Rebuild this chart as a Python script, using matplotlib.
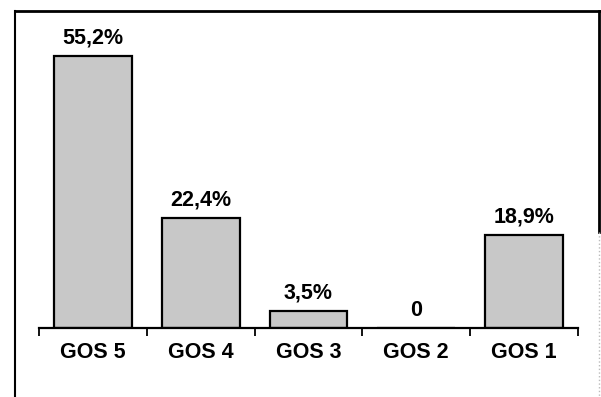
import numpy as np
import matplotlib.pyplot as plt
from matplotlib.lines import Line2D

plt.rcParams['font.family'] = ['Liberation Sans', 'DejaVu Sans']

categories = ["GOS 5", "GOS 4", "GOS 3", "GOS 2", "GOS 1"]
values = [55.2, 22.4, 3.5, 0.0, 18.9]
labels = ["55,2%", "22,4%", "3,5%", "0", "18,9%"]

W, H = 601, 397
fig = plt.figure(figsize=(W / 100, H / 100), dpi=100)
# axes in pixel terms: x 39..578, baseline at y=328, top at y=11
ax = fig.add_axes([39 / W, (H - 328) / H, (578 - 39) / W, (328 - 11) / H])

x = np.arange(len(categories))
ax.bar(x, values, width=0.72, color='#c8c8c8', edgecolor='black', linewidth=1.6)

for xi, v, lab in zip(x, values, labels):
    ax.annotate(lab, (xi, v), xytext=(0, 9), textcoords='offset points',
                ha='center', va='baseline', fontsize=15.5, fontweight='bold')

ax.set_xlim(-0.5, len(categories) - 0.5)
ax.set_ylim(0, 64.3)
ax.set_xticks(x)
ax.set_xticklabels(categories, fontsize=15.5, fontweight='bold')
ax.set_xticks(np.arange(len(categories) + 1) - 0.5, minor=True)
ax.tick_params(axis='x', which='major', length=0, pad=10)
ax.tick_params(axis='x', which='minor', length=6, width=1.3, direction='out')
ax.set_yticks([])
for s in ['top', 'right', 'left']:
    ax.spines[s].set_visible(False)
ax.spines['bottom'].set_linewidth(1.6)

# outer frame
fig.add_artist(Line2D([15 / W, 600 / W], [1 - 11 / H, 1 - 11 / H], color='black', lw=2))
fig.add_artist(Line2D([15 / W, 15 / W], [1 - 11 / H, 0], color='black', lw=1.5))
fig.add_artist(Line2D([599 / W, 599 / W], [1 - 11 / H, 1 - 232 / H], color='black', lw=2))
fig.add_artist(Line2D([599 / W, 599 / W], [1 - 232 / H, 0], color='#bbbbbb', lw=1, ls=':'))

fig.savefig("out.png", dpi=100)
